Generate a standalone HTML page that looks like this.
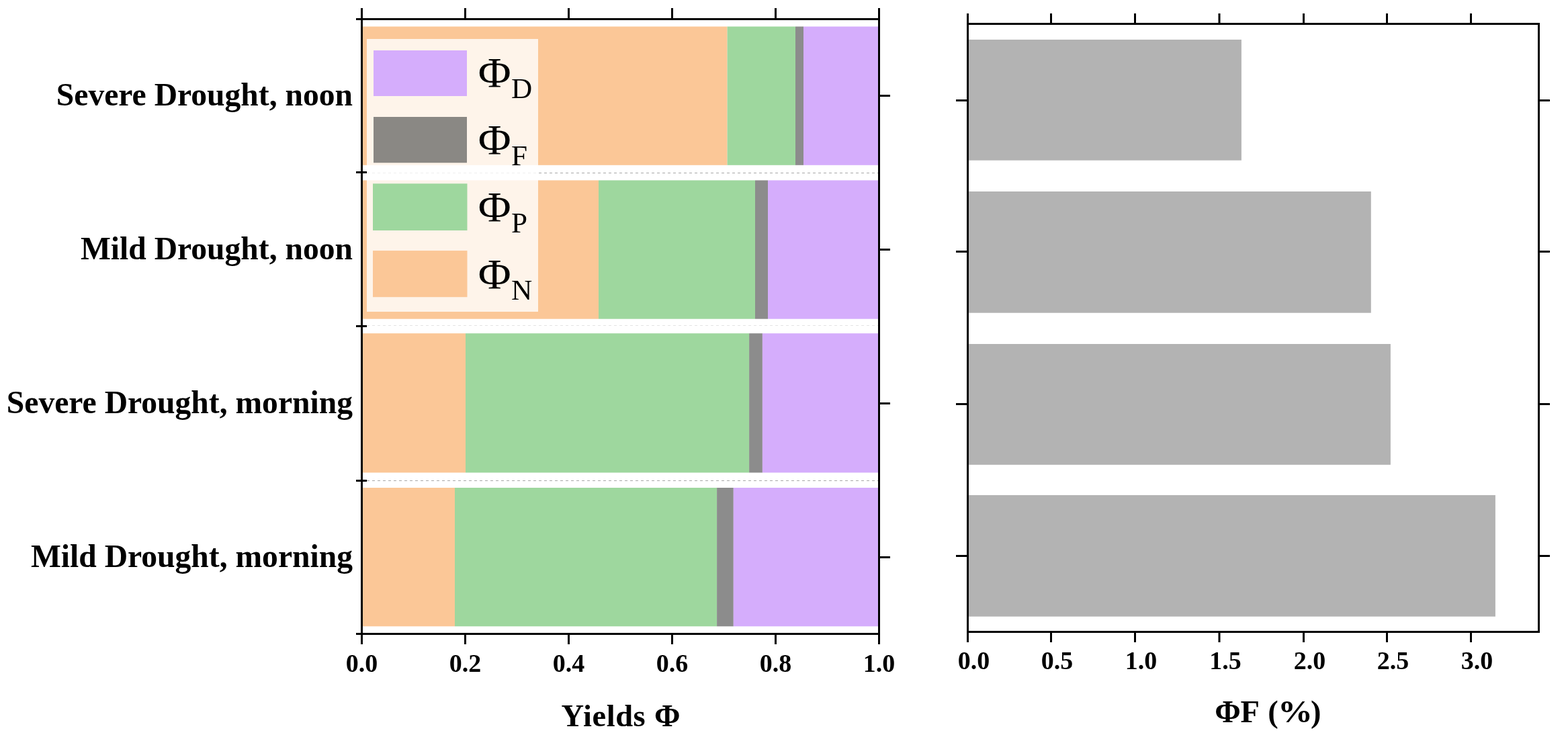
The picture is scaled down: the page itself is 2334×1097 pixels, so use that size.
<!DOCTYPE html>
<html><head><meta charset="utf-8"><title>Yields chart</title>
<style>
html,body{margin:0;padding:0;background:#fff;}
body{width:2334px;height:1097px;overflow:hidden;}
svg{display:block;}
text{font-family:"Liberation Serif","Times New Roman",serif;fill:#000;}
.cat{font-weight:bold;font-size:47.6px;}
.tick{font-weight:bold;font-size:38px;}
.ttl{font-weight:bold;font-size:46.5px;}
.leg{font-size:63.2px;}
.sub{font-size:43.2px;}
</style></head>
<body>
<svg width="2334" height="1097" viewBox="0 0 2334 1097">
<!-- left chart: stacked bars -->
<g>
<rect x="538.5" y="39.5" width="544.1" height="206.3" fill="#FBC797"/>
<rect x="1082.6" y="39.5" width="101.4" height="206.3" fill="#9ED79E"/>
<rect x="1184.0" y="39.5" width="12.0" height="206.3" fill="#8C8C8C"/>
<rect x="1196.0" y="39.5" width="112.5" height="206.3" fill="#D5ADFC"/>
<rect x="538.5" y="268.4" width="352.5" height="206.3" fill="#FBC797"/>
<rect x="891.0" y="268.4" width="233.0" height="206.3" fill="#9ED79E"/>
<rect x="1124.0" y="268.4" width="19.0" height="206.3" fill="#8C8C8C"/>
<rect x="1143.0" y="268.4" width="165.5" height="206.3" fill="#D5ADFC"/>
<rect x="538.5" y="496.2" width="154.5" height="207.3" fill="#FBC797"/>
<rect x="693.0" y="496.2" width="422.1" height="207.3" fill="#9ED79E"/>
<rect x="1115.1" y="496.2" width="19.8" height="207.3" fill="#8C8C8C"/>
<rect x="1134.9" y="496.2" width="173.6" height="207.3" fill="#D5ADFC"/>
<rect x="538.5" y="726.0" width="138.5" height="206.3" fill="#FBC797"/>
<rect x="677.0" y="726.0" width="390.1" height="206.3" fill="#9ED79E"/>
<rect x="1067.1" y="726.0" width="24.7" height="206.3" fill="#8C8C8C"/>
<rect x="1091.8" y="726.0" width="216.7" height="206.3" fill="#D5ADFC"/>
</g>
<g stroke="#a8a8a8" stroke-width="1" stroke-dasharray="4 4">
<line x1="546" y1="257.5" x2="1307" y2="257.5"/>
<line x1="546" y1="484.5" x2="1307" y2="484.5" stroke="#e4e4e4"/>
<line x1="546" y1="715.5" x2="1307" y2="715.5"/>
</g>
<rect x="546" y="58" width="255" height="406" fill="#fff" fill-opacity="0.8"/>
<rect x="556" y="75" width="139" height="68" fill="#D5ADFC"/>
<rect x="556" y="174" width="139" height="68.3" fill="#8A8884"/>
<rect x="555" y="273.3" width="140.5" height="69.7" fill="#9ED79E"/>
<rect x="555" y="373.1" width="140.5" height="69.1" fill="#FBC797"/>
<text class="leg" transform="translate(711.8 129.8) scale(1.06 1)">&#934;</text>
<text class="sub" x="761" y="146.3">D</text>
<text class="leg" transform="translate(711.8 229.8) scale(1.06 1)">&#934;</text>
<text class="sub" x="761" y="246.3">F</text>
<text class="leg" transform="translate(711.8 329.8) scale(1.06 1)">&#934;</text>
<text class="sub" x="761" y="346.3">P</text>
<text class="leg" transform="translate(711.8 429.8) scale(1.06 1)">&#934;</text>
<text class="sub" x="761" y="446.3">N</text>
<g stroke="#000" stroke-width="3" fill="none">
<path d="M538.5 28.5H1308.5M538.5 943.5H1308.5M538.5 27V945M1308.5 12V945"/>
<path d="M538.5 12V28"/>
<path d="M692.5 12V28"/>
<path d="M846.5 12V28"/>
<path d="M1000.5 12V28"/>
<path d="M1154.5 12V28"/>
<path d="M538.5 944V959"/>
<path d="M692.5 944V959"/>
<path d="M846.5 944V959"/>
<path d="M1000.5 944V959"/>
<path d="M1154.5 944V959"/>
<path d="M1308.5 944V959"/>
<path d="M530 28.5H546"/>
<path d="M530 256.5H546"/>
<path d="M530 485.5H546"/>
<path d="M530 715.5H546"/>
<path d="M530 943.5H546"/>
<path d="M1309 142.5H1325"/>
<path d="M1309 371.5H1325"/>
<path d="M1309 600.5H1325"/>
<path d="M1309 829.5H1325"/>
</g>
<text class="cat" text-anchor="end" x="525" y="157">Severe Drought, noon</text>
<text class="cat" text-anchor="end" x="525" y="386">Mild Drought, noon</text>
<text class="cat" text-anchor="end" x="525" y="615.1">Severe Drought, morning</text>
<text class="cat" text-anchor="end" x="525" y="843.5">Mild Drought, morning</text>
<g class="tick" text-anchor="middle">
<text x="538.5" y="999.8">0.0</text>
<text x="692.5" y="999.8">0.2</text>
<text x="846.5" y="999.8">0.4</text>
<text x="1000.5" y="999.8">0.6</text>
<text x="1154.5" y="999.8">0.8</text>
<text x="1308.5" y="999.8">1.0</text>
</g>
<text class="ttl" x="835.6" y="1080.8"><tspan letter-spacing="0.55">Yields</tspan><tspan x="974.1">&#934;</tspan></text>
<g fill="#B3B3B3">
<rect x="1440.5" y="59" width="407.4" height="179.7"/>
<rect x="1440.5" y="285" width="600.3" height="180.7"/>
<rect x="1440.5" y="512" width="629.4" height="179.8"/>
<rect x="1440.5" y="737" width="785.4" height="180.7"/>
</g>
<g stroke="#000" stroke-width="3" fill="none">
<rect x="1440.5" y="35.5" width="850" height="905"/>
<path d="M1440.5 20V35M1440.5 941V956"/>
<path d="M1564.5 20V35M1564.5 941V956"/>
<path d="M1689.5 20V35M1689.5 941V956"/>
<path d="M1815 20V35M1815 941V956"/>
<path d="M1940.5 20V35M1940.5 941V956"/>
<path d="M2064.5 20V35M2064.5 941V956"/>
<path d="M2189.5 20V35M2189.5 941V956"/>
<path d="M1423 149.5H1440M2291 149.5H2307"/>
<path d="M1423 374.5H1440M2291 374.5H2307"/>
<path d="M1423 601.5H1440M2291 601.5H2307"/>
<path d="M1423 827.5H1440M2291 827.5H2307"/>
</g>
<g class="tick" text-anchor="middle">
<text x="1449.5" y="995.7">0.0</text>
<text x="1573.5" y="995.7">0.5</text>
<text x="1698.5" y="995.7">1.0</text>
<text x="1824.0" y="995.7">1.5</text>
<text x="1949.5" y="995.7">2.0</text>
<text x="2073.5" y="995.7">2.5</text>
<text x="2198.5" y="995.7">3.0</text>
</g>
<text class="ttl" y="1074.7"><tspan x="1808.2 1846.4 1874 1887.3">&#934;F (</tspan><tspan x="1902.1" textLength="52.1" lengthAdjust="spacingAndGlyphs">%</tspan><tspan x="1951">)</tspan></text>
</svg>
</body></html>
